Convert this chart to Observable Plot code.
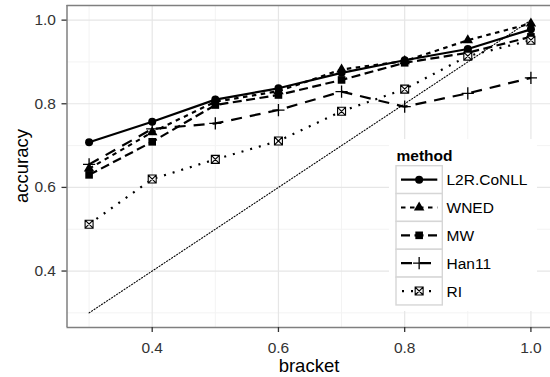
<!DOCTYPE html>
<html>
<head>
<meta charset="utf-8">
<script src="https://cdn.jsdelivr.net/npm/d3@7"></script>
<script src="https://cdn.jsdelivr.net/npm/@observablehq/plot@0.6"></script>
<style>
  html, body { margin: 0; padding: 0; background: #fff; }
  #wrap { position: relative; width: 550px; height: 377px; overflow: hidden; font-family: "Liberation Sans", Arial, sans-serif; }
  #overlay { position: absolute; left: 0; top: 0; pointer-events: none; }
</style>
</head>
<body>
<div id="wrap"></div>
<script>
// ---- data ----
const brackets = [0.3, 0.4, 0.5, 0.6, 0.7, 0.8, 0.9, 1.0];
const methods = ["L2R.CoNLL", "WNED", "MW", "Han11", "RI"];
const l2r   = [0.708, 0.757, 0.810, 0.837, 0.874, 0.904, 0.931, 0.978];
const wned  = [0.645, 0.732, 0.805, 0.830, 0.882, 0.902, 0.952, 0.992];
const mw    = [0.630, 0.709, 0.797, 0.821, 0.857, 0.898, 0.922, 0.960];
const han11 = [0.655, 0.740, 0.753, 0.785, 0.829, 0.793, 0.825, 0.862];
const ri    = [0.512, 0.620, 0.667, 0.711, 0.782, 0.835, 0.914, 0.952];
const diagX = [0.3, 1.0];
const xTicks = [0.4, 0.6, 0.8, 1.0];
const yTicks = [0.4, 0.6, 0.8, 1.0];
const xMinor = [0.3, 0.5, 0.7, 0.9];
const yMinor = [0.3, 0.5, 0.7, 0.9];

const seriesValues = [l2r, wned, mw, han11, ri];
const rows = [];
methods.forEach((m, i) => brackets.forEach((b, j) => rows.push({method: m, bracket: b, accuracy: seriesValues[i][j]})));
const diag = diagX.map(v => ({x: v, y: v}));

// ---- styles ----
const dashes = {"L2R.CoNLL": null, "WNED": "4.5,4.5", "MW": "9,4.5", "Han11": "11,8", "RI": "2,7"};
const squareX = {
  draw(ctx, size) {
    const h = Math.sqrt(size) / 2;
    ctx.moveTo(-h, -h); ctx.lineTo(h, -h); ctx.lineTo(h, h); ctx.lineTo(-h, h); ctx.closePath();
    ctx.moveTo(-h, -h); ctx.lineTo(h, h);
    ctx.moveTo(h, -h); ctx.lineTo(-h, h);
  }
};
const symStyle = {
  "L2R.CoNLL": {symbol: "circle", r: 4, fill: "black", stroke: "none"},
  "WNED": {symbol: "triangle", r: 3.9, fill: "black", stroke: "none"},
  "MW": {symbol: "square", r: 4.3, fill: "black", stroke: "none"},
  "Han11": {symbol: "plus", r: 4, fill: "none", stroke: "black", strokeWidth: 1.3},
  "RI": {symbol: squareX, r: 4.5, fill: "#f4f4f4", stroke: "black", strokeWidth: 1.1}
};

const lineMarks = methods.map(m => Plot.line(rows.filter(d => d.method === m), {
  x: "bracket", y: "accuracy", stroke: "black", strokeWidth: 2.2,
  strokeDasharray: dashes[m], strokeLinecap: "butt"
}));
const dotMarks = methods.map(m => Plot.dot(rows.filter(d => d.method === m), {
  x: "bracket", y: "accuracy", ...symStyle[m]
}));

const chart = Plot.plot({
  width: 550, height: 377,
  marginLeft: 66.5, marginRight: 0, marginTop: 5, marginBottom: 50,
  style: {fontFamily: "'Liberation Sans', Arial, sans-serif", background: "white", color: "#333"},
  x: {domain: [0.265, 1.035], range: [66.5, 552.5]},
  y: {domain: [0.265, 1.035]},
  marks: [
    Plot.gridX(xMinor, {stroke: "#f3f3f3", strokeOpacity: 1, strokeWidth: 1}),
    Plot.gridY(yMinor, {stroke: "#f3f3f3", strokeOpacity: 1, strokeWidth: 1}),
    Plot.gridX(xTicks, {stroke: "#e6e6e6", strokeOpacity: 1, strokeWidth: 1.2}),
    Plot.gridY(yTicks, {stroke: "#e6e6e6", strokeOpacity: 1, strokeWidth: 1.2}),
    Plot.line(diag, {x: "x", y: "y", stroke: "black", strokeWidth: 1.1, strokeDasharray: "1.1,1.9"}),
    ...lineMarks,
    ...dotMarks,
    Plot.ruleX([0.265], {stroke: "#7f7f7f", strokeWidth: 1.5}),
    Plot.ruleY([0.265], {stroke: "#7f7f7f", strokeWidth: 1.5}),
    Plot.ruleY([1.035], {stroke: "#7f7f7f", strokeWidth: 1.5}),
    Plot.axisX(xTicks, {tickFormat: d3.format(".1f"), tickSize: 5, tickPadding: 9, fontSize: 15.5, label: null, strokeWidth: 1.3}),
    Plot.axisY(yTicks, {tickFormat: d3.format(".1f"), tickSize: 5, tickPadding: 6, fontSize: 15.5, label: null, strokeWidth: 1.3})
  ]
});

const wrap = document.getElementById("wrap");
wrap.appendChild(chart);

// ---- overlay: axis titles and legend ----
const svg = d3.select(wrap).append("svg").attr("id", "overlay")
  .attr("width", 550).attr("height", 377)
  .style("font-family", "'Liberation Sans', Arial, sans-serif");

svg.append("text").attr("x", 309).attr("y", 371.5).attr("text-anchor", "middle")
  .attr("font-size", 18.5).attr("fill", "black").text("bracket");
svg.append("text").attr("transform", "translate(27.5,166) rotate(-90)").attr("text-anchor", "middle")
  .attr("font-size", 18.5).attr("fill", "black").text("accuracy");

const lg = svg.append("g");
lg.append("rect").attr("x", 389).attr("y", 139).attr("width", 148).attr("height", 172).attr("fill", "white");
lg.append("text").attr("x", 396.5).attr("y", 160.5).attr("font-size", 15.5).attr("font-weight", "bold").attr("fill", "black").text("method");
const rowH = 27.85, top0 = 165.7, kx0 = 396, kx1 = 442.3;
methods.forEach((m, i) => {
  const y0 = top0 + i * rowH, cy = y0 + rowH / 2;
  lg.append("rect").attr("x", kx0).attr("y", y0).attr("width", kx1 - kx0).attr("height", rowH)
    .attr("fill", "white").attr("stroke", "#d6d6d6").attr("stroke-width", 1.4);
  const ln = lg.append("line").attr("x1", kx0 + 5).attr("x2", kx1 - 5).attr("y1", cy).attr("y2", cy)
    .attr("stroke", "black").attr("stroke-width", 2.2);
  const kd = dashes[m];
  if (kd) ln.attr("stroke-dasharray", kd).attr("stroke-dashoffset", m === "RI" ? -1 : 0);
  const s = symStyle[m];
  const symType = typeof s.symbol === "string"
    ? {circle: d3.symbolCircle, triangle: d3.symbolTriangle, square: d3.symbolSquare, plus: d3.symbolPlus}[s.symbol]
    : s.symbol;
  lg.append("path").attr("transform", `translate(${(kx0 + kx1) / 2},${cy})`)
    .attr("d", d3.symbol(symType, Math.PI * s.r * s.r)())
    .attr("fill", s.fill).attr("stroke", s.stroke).attr("stroke-width", s.strokeWidth || 0);
  lg.append("text").attr("x", 446.5).attr("y", cy + 5.5).attr("font-size", 15.5).attr("fill", "black").text(m);
});
</script>
</body>
</html>
